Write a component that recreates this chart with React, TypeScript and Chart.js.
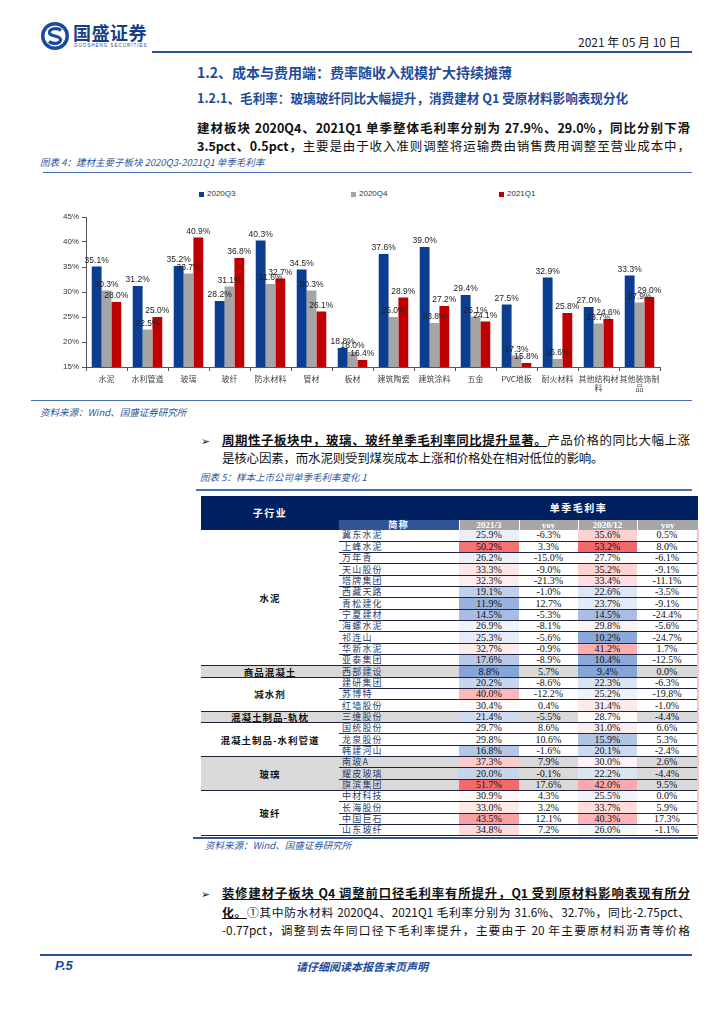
import React, { useEffect, useRef } from "react";
import { Chart, registerables } from "chart.js";

Chart.register(...registerables);

// ---------- Chart data ----------
const categories: (string | string[])[] = [
  "水泥", "水利管道", "玻璃", "玻纤", "防水材料", "管材", "板材",
  "建筑陶瓷", "建筑涂料", "五金", "PVC地板", "耐火材料",
  ["其他结构材", "料"], ["其他装饰制", "品"],
];
const seriesNames = ["2020Q3", "2020Q4", "2021Q1"];
const q3Values = [35.1, 31.2, 35.2, 28.2, 40.3, 34.5, 18.8, 37.6, 39.0, 29.4, 27.5, 32.9, 27.0, 33.3];
const q4Values = [30.3, 22.5, 33.7, 31.1, 31.6, 30.3, 18.0, 25.0, 23.8, 25.1, 17.3, 16.6, 23.7, 27.9];
const q1Values = [28.0, 25.0, 40.9, 36.8, 32.7, 26.1, 16.4, 28.9, 27.2, 24.1, 15.8, 25.8, 24.6, 29.0];
const yTicks = [15, 20, 25, 30, 35, 40, 45];

// ---------- Table data ----------
const groupNames = ["水泥", "商品混凝土", "减水剂", "混凝土制品-轨枕", "混凝土制品-水利管道", "玻璃", "玻纤"];
const groupSizes = [12, 1, 3, 1, 3, 3, 4];
const companies = [
  "冀东水泥", "上峰水泥", "万年青", "天山股份", "塔牌集团", "西藏天路", "青松建化", "宁夏建材", "海螺水泥", "祁连山", "华新水泥", "亚泰集团",
  "西部建设",
  "建研集团", "苏博特", "红墙股份",
  "三维股份",
  "国统股份", "龙泉股份", "韩建河山",
  "南玻A", "耀皮玻璃", "旗滨集团",
  "中材科技", "长海股份", "中国巨石", "山东玻纤",
];
const margin2103 = [25.9, 50.2, 26.2, 33.3, 32.3, 19.1, 11.9, 14.5, 26.9, 25.3, 32.7, 17.6, 8.8, 20.2, 40.0, 30.4, 21.4, 29.7, 29.8, 16.8, 37.3, 20.0, 51.7, 30.9, 33.0, 43.5, 34.8];
const yoy2103 = [-6.3, 3.3, -15.0, -9.0, -21.3, -1.0, 12.7, -5.3, -8.1, -5.6, -0.9, -8.9, 5.7, -8.6, -12.2, 0.4, -5.5, 8.6, 10.6, -1.6, 7.9, -0.1, 17.6, 4.3, 3.2, 12.1, 7.2];
const margin2012 = [35.6, 53.2, 27.7, 35.2, 33.4, 22.6, 23.7, 14.5, 29.8, 10.2, 41.2, 10.4, 9.4, 22.3, 25.2, 31.4, 28.7, 31.0, 15.9, 20.1, 30.0, 22.2, 42.0, 25.5, 33.7, 40.3, 26.0];
const yoy2012 = [0.5, 8.0, -6.1, -9.1, -11.1, -3.5, -9.1, -24.4, -5.6, -24.7, 1.7, -12.5, 0.0, -6.3, -19.8, -1.0, -4.4, 6.6, 5.3, -2.4, 2.6, -4.4, 9.5, 0.0, 5.9, 17.3, -1.1];

const BLUE = "#0b3d91";
const GRAY = "#a5a5a5";
const RED = "#c00000";
const TEXT_BLUE = "#1e4c9a";

const valueLabels = {
  id: "valueLabels",
  afterDatasetsDraw(chart: any) {
    const ctx = chart.ctx;
    ctx.save();
    ctx.font = "8.5px 'Liberation Sans', Arial, sans-serif";
    ctx.fillStyle = "#222";
    ctx.textAlign = "center";
    ctx.textBaseline = "bottom";
    chart.data.datasets.forEach((ds: any, i: number) => {
      const meta = chart.getDatasetMeta(i);
      meta.data.forEach((bar: any, j: number) => {
        const v = ds.data[j];
        ctx.fillText(v.toFixed(1) + "%", bar.x, bar.y - 2);
      });
    });
    ctx.restore();
  },
};

function BarChart() {
  const ref = useRef<HTMLCanvasElement | null>(null);
  useEffect(() => {
    if (!ref.current) return;
    const chart = new Chart(ref.current, {
      type: "bar",
      data: {
        labels: categories as any,
        datasets: [
          { label: seriesNames[0], data: q3Values, backgroundColor: BLUE },
          { label: seriesNames[1], data: q4Values, backgroundColor: GRAY },
          { label: seriesNames[2], data: q1Values, backgroundColor: RED },
        ],
      },
      options: {
        animation: false,
        responsive: true,
        maintainAspectRatio: false,
        layout: { padding: { top: 37, right: 32, left: 0, bottom: 0 } },
        datasets: { bar: { categoryPercentage: 0.72, barPercentage: 1.0 } },
        plugins: { legend: { display: false }, tooltip: { enabled: false } },
        scales: {
          x: {
            grid: { drawOnChartArea: false, tickLength: 4, color: "#555", offset: true },
            border: { color: "#555" },
            ticks: {
              color: "#444",
              font: { size: 8, family: "'Noto Sans CJK SC', sans-serif" },
              maxRotation: 0,
              autoSkip: false,
              padding: 3,
            },
            afterFit: (s: any) => { s.height = 31; },
          },
          y: {
            min: 15,
            max: 45,
            afterBuildTicks: (s: any) => { s.ticks = yTicks.map((v) => ({ value: v })); },
            grid: { drawOnChartArea: false, tickLength: 4, color: "#555" },
            border: { color: "#555" },
            ticks: {
              color: "#333",
              font: { size: 8, family: "'Liberation Sans', Arial, sans-serif" },
              callback: (v: any) => v + "%",
              padding: 3,
            },
            afterFit: (s: any) => { s.width = 46; },
          },
        },
      },
      plugins: [valueLabels],
    });
    return () => chart.destroy();
  }, []);
  return <canvas ref={ref} />;
}

function heatColor(v: number, arr: number[]) {
  const sorted = [...arr].sort((a, b) => a - b);
  const min = sorted[0];
  const max = sorted[sorted.length - 1];
  const mid = sorted[Math.floor(sorted.length / 2)];
  const low = [134, 164, 216];
  const white = [255, 255, 255];
  const high = [245, 105, 107];
  let c: number[];
  if (v <= mid) {
    const t = (v - min) / (mid - min || 1);
    c = low.map((l, i) => l + (white[i] - l) * t);
  } else {
    const t = (v - mid) / (max - mid || 1);
    c = white.map((w, i) => w + (high[i] - w) * t);
  }
  return `rgb(${c.map((x) => Math.round(x)).join(",")})`;
}

function pct(v: number) {
  return v.toFixed(1) + "%";
}

function MarginTable() {
  const rows: React.ReactNode[] = [];
  let idx = 0;
  const line = "1px solid #1f2240";
  const base: React.CSSProperties = { padding: 0, borderBottom: line, height: 10, lineHeight: "10px", whiteSpace: "nowrap", verticalAlign: "middle" };
  groupNames.forEach((g, gi) => {
    const grayGroup = gi % 2 === 1;
    const bg = grayGroup ? "#d9d9d9" : "#ffffff";
    for (let k = 0; k < groupSizes[gi]; k++) {
      const i = idx++;
      rows.push(
        <tr key={i} style={{ height: 11.33 }}>
          {k === 0 && (
            <td
              rowSpan={groupSizes[gi]}
              style={{ ...base, height: undefined, background: bg, textAlign: "center", fontWeight: 700, fontSize: 9.5, letterSpacing: 1, color: "#111", fontFamily: "'Noto Sans CJK SC', sans-serif" }}
            >
              {g}
            </td>
          )}
          <td style={{ ...base, background: bg, textAlign: "left", paddingLeft: 3, color: "#2a3a6a", fontSize: 9, letterSpacing: 1.2, fontFamily: "'Noto Sans CJK SC', sans-serif" }}>{companies[i]}</td>
          <td style={{ ...base, background: heatColor(margin2103[i], margin2103) }}>{pct(margin2103[i])}</td>
          <td style={{ ...base, background: bg }}>{pct(yoy2103[i])}</td>
          <td style={{ ...base, background: heatColor(margin2012[i], margin2012) }}>{pct(margin2012[i])}</td>
          <td style={{ ...base, background: bg, borderRight: "2px solid #f6c6c6" }}>{pct(yoy2012[i])}</td>
        </tr>
      );
    }
  });
  const hdr: React.CSSProperties = { padding: 0, lineHeight: "10px", height: 10, color: "#fff", fontWeight: 700, fontSize: 9 };
  const hdrGray: React.CSSProperties = { ...hdr, background: "#a6a6a6", borderLeft: "1px solid #fff", fontFamily: "'Liberation Serif', serif" };
  return (
    <table
      style={{
        position: "absolute",
        left: 201,
        top: 496,
        width: 497,
        borderCollapse: "collapse",
        borderSpacing: 0,
        tableLayout: "fixed",
        fontSize: 10,
        fontFamily: "'Liberation Serif', 'Noto Sans CJK SC', serif",
        textAlign: "center",
        lineHeight: "10px",
      }}
    >
      <colgroup>
        <col style={{ width: 138 }} />
        <col style={{ width: 120 }} />
        <col style={{ width: 60 }} />
        <col style={{ width: 59 }} />
        <col style={{ width: 59 }} />
        <col style={{ width: 61 }} />
      </colgroup>
      <tbody>
        <tr style={{ height: 24 }}>
          <td rowSpan={2} style={{ ...hdr, height: undefined, background: "#002060", fontFamily: "'Noto Sans CJK SC', sans-serif", fontSize: 10, letterSpacing: 1.5 }}>子行业</td>
          <td style={{ ...hdr, height: 24, background: "#002060" }} />
          <td colSpan={4} style={{ ...hdr, height: 24, background: "#002060", fontFamily: "'Noto Sans CJK SC', sans-serif", fontSize: 10, letterSpacing: 1.5 }}>单季毛利率</td>
        </tr>
        <tr style={{ height: 10 }}>
          <td style={{ ...hdr, background: "#2f5597", fontFamily: "'Noto Sans CJK SC', sans-serif", letterSpacing: 1.5 }}>简称</td>
          <td style={hdrGray}>2021/3</td>
          <td style={hdrGray}>yoy</td>
          <td style={hdrGray}>2020/12</td>
          <td style={hdrGray}>yoy</td>
        </tr>
        {rows}
      </tbody>
    </table>
  );
}

const abs = (top: number, left: number, extra: React.CSSProperties = {}): React.CSSProperties => ({
  position: "absolute",
  top,
  left,
  whiteSpace: "nowrap",
  ...extra,
});

const justLine = (top: number, left: number, width: number, size: number): React.CSSProperties => ({
  position: "absolute",
  top,
  left,
  width,
  fontSize: size,
  lineHeight: "18px",
  height: 18,
  textAlign: "justify",
  textAlignLast: "justify" as any,
  overflow: "visible",
});

export default function App() {
  const bold: React.CSSProperties = { fontWeight: 700 };
  const boldU: React.CSSProperties = { fontWeight: 700, textDecoration: "underline" };
  const caption: React.CSSProperties = { fontStyle: "italic", color: "#2f5597", fontSize: 9.5, lineHeight: "14px" };
  return (
    <div
      style={{
        position: "absolute",
        left: 0,
        top: 0,
        width: 724,
        height: 1024,
        background: "#fff",
        fontFamily: "'Noto Sans CJK SC', 'Liberation Sans', sans-serif",
        color: "#111",
        overflow: "hidden",
      }}
    >
      {/* Logo */}
      <svg style={{ position: "absolute", left: 40, top: 21 }} width={30} height={30} viewBox="0 0 30 30">
        <circle cx={15} cy={15} r={14} fill="#1b4a9c" />
        <circle cx={15} cy={15} r={10.5} fill="#fff" />
        <path d="M21 9.5 C18 6.5 9 7 9.5 12 C10 16 20 14 20.5 18.5 C21 23 12 23.5 9 20.5" stroke="#1b4a9c" strokeWidth={3.2} fill="none" />
      </svg>
      <div style={abs(21, 73, { fontSize: 18, fontWeight: 700, color: "#1b3f86", letterSpacing: 0.5, lineHeight: "22px" })}>国盛证券</div>
      <div style={abs(43, 74, { fontSize: 4.5, color: "#1b3f86", letterSpacing: 1, lineHeight: "6px", fontFamily: "'Liberation Sans', sans-serif" })}>GUOSHENG SECURITIES</div>
      <div style={abs(34, 578, { fontSize: 12, lineHeight: "16px", color: "#222" })}>2021 年 05 月 10 日</div>
      <div style={{ position: "absolute", left: 152, top: 51, width: 540, height: 2, background: "#2c4f9c" }} />

      {/* Headings */}
      <div style={abs(63, 197, { fontSize: 14, fontWeight: 700, color: TEXT_BLUE, lineHeight: "18px" })}>1.2、成本与费用端：费率随收入规模扩大持续摊薄</div>
      <div style={abs(89, 197, { fontSize: 12.6, fontWeight: 700, color: TEXT_BLUE, lineHeight: "18px" })}>1.2.1、毛利率：玻璃玻纤同比大幅提升，消费建材 Q1 受原材料影响表现分化</div>

      <div style={justLine(119, 197, 493, 12.5)}>
        <span style={bold}>建材板块 2020Q4、2021Q1 单季整体毛利率分别为 27.9%、29.0%，同比分别下滑</span>
      </div>
      <div style={justLine(137, 197, 493, 12.5)}>
        <span style={bold}>3.5pct、0.5pct，</span>主要是由于收入准则调整将运输费由销售费用调整至营业成本中，
      </div>

      <div style={abs(155, 40, caption)}>图表 4：建材主要子板块 2020Q3-2021Q1 单季毛利率</div>
      <div style={{ position: "absolute", left: 43, top: 172, width: 649, height: 1, background: "#4a6fb5" }} />

      {/* Legend */}
      {seriesNames.map((n, i) => (
        <div key={n} style={abs(188, [199, 351, 499][i], { fontSize: 8, lineHeight: "12px", color: "#333", fontFamily: "'Liberation Sans', sans-serif" })}>
          <span style={{ display: "inline-block", width: 5, height: 5, background: [BLUE, GRAY, RED][i], marginRight: 3, verticalAlign: "middle" }} />
          <span style={{ verticalAlign: "middle" }}>{n}</span>
        </div>
      ))}

      <div style={{ position: "absolute", left: 40, top: 180, width: 652, height: 218 }}>
        <BarChart />
      </div>

      <div style={{ position: "absolute", left: 31, top: 400, width: 661, height: 1, background: "#4a6fb5" }} />
      <div style={abs(405, 40, caption)}>资料来源：Wind、国盛证券研究所</div>

      {/* Bullet 1 */}
      <div style={abs(431, 201, { fontSize: 11, lineHeight: "18px" })}>➢</div>
      <div style={justLine(431, 222, 468, 12.5)}>
        <span style={boldU}>周期性子板块中，玻璃、玻纤单季毛利率同比提升显著。</span>产品价格的同比大幅上涨
      </div>
      <div style={abs(449, 222, { fontSize: 12.5, lineHeight: "18px", letterSpacing: -0.2 })}>是核心因素，而水泥则受到煤炭成本上涨和价格处在相对低位的影响。</div>

      <div style={abs(470, 200, caption)}>图表 5：样本上市公司单季毛利率变化 1</div>
      <div style={{ position: "absolute", left: 196, top: 489, width: 496, height: 1.5, background: "#4a6fb5" }} />

      <MarginTable />

      <div style={{ position: "absolute", left: 193, top: 837, width: 505, height: 2, background: "#2f5597" }} />
      <div style={abs(838, 205, caption)}>资料来源：Wind、国盛证券研究所</div>

      {/* Bullet 2 */}
      <div style={abs(884, 201, { fontSize: 11, lineHeight: "18px" })}>➢</div>
      <div style={justLine(884, 222, 468, 12.3)}>
        <span style={boldU}>装修建材子板块 Q4 调整前口径毛利率有所提升，Q1 受到原材料影响表现有所分</span>
      </div>
      <div style={justLine(903, 222, 468, 11.8)}>
        <span style={boldU}>化。</span>①其中防水材料 2020Q4、2021Q1 毛利率分别为 31.6%、32.7%，同比-2.75pct、
      </div>
      <div style={justLine(921, 222, 468, 11.8)}>
        -0.77pct，调整到去年同口径下毛利率提升，主要由于 20 年主要原材料沥青等价格
      </div>

      {/* Footer */}
      <div style={{ position: "absolute", left: 40, top: 954, width: 652, height: 2, background: "#2c4f9c" }} />
      <div style={abs(958, 55, { fontSize: 13, fontWeight: 700, fontStyle: "italic", color: "#1b4a9c", lineHeight: "16px", fontFamily: "'Liberation Sans', sans-serif" })}>P.5</div>
      <div style={{ position: "absolute", top: 958, left: 262, width: 200, textAlign: "center", fontSize: 11, fontWeight: 700, fontStyle: "italic", color: "#1b4a9c", lineHeight: "16px" }}>请仔细阅读本报告末页声明</div>
    </div>
  );
}
